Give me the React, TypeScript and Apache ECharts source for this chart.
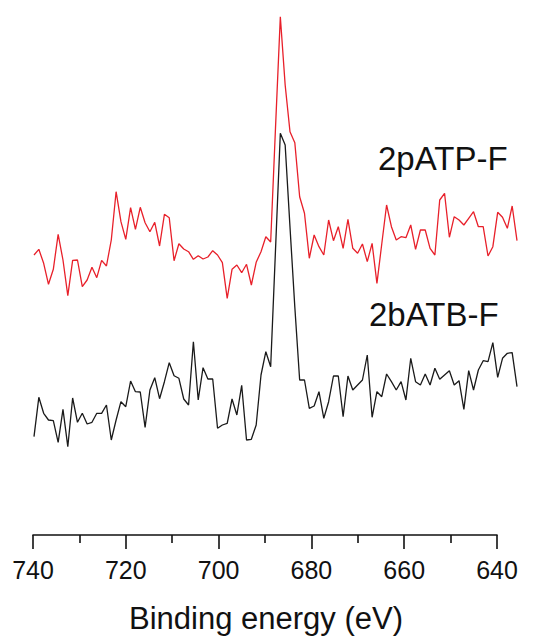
import React, { useEffect, useRef } from "react";
import * as echarts from "echarts";

// Binding energy grid of the spectra (eV), 1 eV steps from 740 down to 640
const energy: number[] = Array.from({ length: 101 }, (_, i) => 740 - i);

// Intensity (arbitrary units, offset traces)
const pATP: number[] = [
  285, 290.7, 276.7, 255.7, 270.7, 305.7, 280, 244.3, 279.7, 280,
  253.3, 260, 272.7, 262.3, 279.7, 274, 300, 348.3, 318.3, 300.7,
  332.3, 310.7, 332.7, 317.3, 308.3, 317.7, 294, 325.7, 322.3, 279.3,
  296.3, 291, 288.3, 280.7, 284.3, 281, 283, 289.3, 285, 277.3,
  241.7, 270.7, 275, 267.3, 275.7, 255, 277.7, 288.3, 303.3, 298,
  412, 523.3, 455, 408.3, 397.3, 343.3, 326.7, 281.7, 305, 293.3,
  285, 320, 299.3, 313.3, 291.7, 320.7, 291.7, 286.7, 296, 278.3,
  296.7, 256.7, 296, 335, 313.3, 300, 303.3, 302.3, 315, 290.7,
  310, 310, 291.7, 285, 340, 346.7, 302.7, 323.3, 320, 315,
  321.7, 328.3, 313.3, 313.3, 284, 293.3, 327.7, 322.7, 311.7, 334,
  299.3,
];

const bATB: number[] = [
  103.3, 142.7, 126.7, 120, 119.3, 97.7, 130.7, 93.3, 142, 117.7,
  126.7, 116, 117.7, 126.7, 126.7, 135, 100, 120, 138.3, 133.3,
  159, 148.3, 148, 112.7, 150, 162.3, 141.3, 158.3, 177.3, 164.3,
  161.7, 141, 135, 198.3, 140, 172.3, 161, 161, 111.7, 115,
  116.7, 141, 125, 154.7, 100, 100.7, 115, 165, 188.3, 173.3,
  290, 406.7, 395, 313, 233, 160, 160, 131.7, 134, 148.3,
  121.7, 138.3, 164, 164, 123.3, 164, 150, 155, 160, 185,
  122.7, 148.3, 143.3, 166, 158.3, 150, 158.3, 140, 181.7, 158.3,
  155, 166, 155, 171.7, 160.7, 165, 169.3, 155, 159.3, 130.7,
  169.3, 150, 170, 179.3, 178.3, 197.3, 162.7, 181.7, 186.7, 187.3,
  153.3,
];

const seriesNames: string[] = ["2pATP-F", "2bATB-F"];
const axisTitle = "Binding energy (eV)";

export default function App() {
  const ref = useRef<HTMLDivElement>(null);

  useEffect(() => {
    if (!ref.current) return;
    const chart = echarts.init(ref.current, undefined, { renderer: "svg" });
    const font = '"Liberation Sans", Arial, sans-serif';
    const hidden = {
      show: false,
      axisLine: { show: false },
      axisTick: { show: false },
      axisLabel: { show: false },
      splitLine: { show: false },
    };
    chart.setOption({
      animation: false,
      backgroundColor: "#ffffff",
      grid: [
        { left: 33, width: 464, top: 0, height: 535 },
        { left: 34, width: 483, top: 0, height: 540 },
      ],
      xAxis: [
        {
          gridIndex: 0,
          type: "value",
          min: 640,
          max: 740,
          interval: 20,
          inverse: true,
          axisLine: { show: true, onZero: false, lineStyle: { color: "#111", width: 1.6 } },
          axisTick: { show: true, length: 14, lineStyle: { color: "#111", width: 1.6 } },
          minorTick: { show: true, splitNumber: 2, length: 8, lineStyle: { color: "#111", width: 1.6 } },
          splitLine: { show: false },
          axisLabel: {
            show: true,
            margin: 22,
            fontSize: 25,
            color: "#111",
            fontFamily: font,
          },
        },
        {
          gridIndex: 1,
          type: "value",
          min: 640,
          max: 740,
          inverse: true,
          ...hidden,
        },
      ],
      yAxis: [
        { gridIndex: 0, type: "value", min: 0, max: 1, ...hidden },
        { gridIndex: 1, type: "value", min: 0, max: 540, ...hidden },
      ],
      series: [
        {
          name: seriesNames[0],
          type: "line",
          xAxisIndex: 1,
          yAxisIndex: 1,
          showSymbol: false,
          clip: false,
          data: energy.map((e, i) => [e, pATP[i]]),
          lineStyle: { color: "#e8202a", width: 1.3 },
          itemStyle: { color: "#e8202a" },
        },
        {
          name: seriesNames[1],
          type: "line",
          xAxisIndex: 1,
          yAxisIndex: 1,
          showSymbol: false,
          clip: false,
          data: energy.map((e, i) => [e, bATB[i]]),
          lineStyle: { color: "#1a1a1a", width: 1.3 },
          itemStyle: { color: "#1a1a1a" },
        },
      ],
      graphic: [
        {
          type: "text",
          x: 378,
          y: 158,
          style: {
            text: seriesNames[0],
            font: `33px ${font}`,
            fill: "#111",
            verticalAlign: "middle",
            align: "left",
          },
        },
        {
          type: "text",
          x: 369,
          y: 314,
          style: {
            text: seriesNames[1],
            font: `33px ${font}`,
            fill: "#111",
            verticalAlign: "middle",
            align: "left",
          },
        },
        {
          type: "text",
          x: 266,
          y: 618,
          style: {
            text: axisTitle,
            font: `31px ${font}`,
            fill: "#111",
            verticalAlign: "middle",
            align: "center",
          },
        },
      ],
    });
    return () => chart.dispose();
  }, []);

  return (
    <div
      ref={ref}
      style={{ position: "absolute", left: 0, top: 0, width: 545, height: 642 }}
    />
  );
}
